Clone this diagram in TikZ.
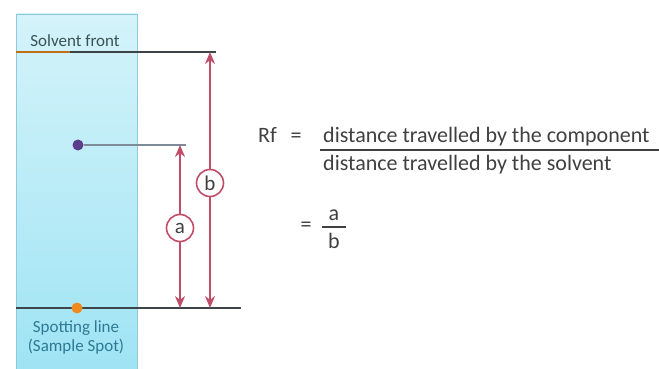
\documentclass[tikz,border=0pt]{standalone}
\usepackage{fontspec}
\setmainfont{Carlito}
\usetikzlibrary{arrows.meta}
\definecolor{plateTop}{HTML}{D4F3FA}
\definecolor{plateBot}{HTML}{9FE4F4}
\definecolor{plateEdge}{HTML}{8FC9DA}
\definecolor{arrowred}{HTML}{C04D68}
\definecolor{txtgray}{HTML}{404040}
\definecolor{spottxt}{HTML}{2E7A96}
\definecolor{orangedot}{HTML}{F08A1E}
\definecolor{purpledot}{HTML}{5A3E8C}
\definecolor{linegray}{HTML}{3C4448}
\definecolor{connblue}{HTML}{7D8C98}
\tikzset{
  dim/.style={draw=arrowred, line width=2.2pt, {Stealth[length=12pt,width=10pt]}-{Stealth[length=12pt,width=10pt]}},
  lab/.style={circle, draw=arrowred, line width=1.6pt, fill=white, minimum size=27pt, inner sep=0pt, font=\fontsize{21}{21}\selectfont, text=txtgray},
  ftxt/.style={font=\fontsize{22}{26}\selectfont, text=txtgray, inner sep=0pt},
  ptxt/.style={font=\fontsize{17}{19}\selectfont, inner sep=0pt, align=center}
}
\begin{document}
\begin{tikzpicture}[x=1pt,y=-1pt]
\useasboundingbox (0,0) rectangle (659,369);
% plate
\shade[top color=plateTop, bottom color=plateBot, draw=plateEdge, line width=0.8pt] (16,14) rectangle (137,369);
% solvent front
\coordinate (sfL) at (16,52);
\coordinate (sfM) at (70,52);
\coordinate (sfR) at (216,52);
\draw[orangedot!80!black, line width=1.8pt] (sfL) -- (sfM);
\draw[linegray, line width=1.4pt] (sfM) -- (sfR);
\node[ptxt, text=txtgray!90!cyan] (sft) at (75,41) {Solvent front};
% spotting line
\coordinate (slL) at (16,308);
\coordinate (slR) at (241,308);
\draw[linegray, line width=1.4pt] (slL) -- (slR);
\node[circle, fill=orangedot, minimum size=11pt, inner sep=0pt] (spot) at (77,308) {};
\node[ptxt, text=spottxt] (slt) at (76,337) {Spotting line\\(Sample Spot)};
% component spot
\node[circle, fill=purpledot, minimum size=11pt, inner sep=0pt] (comp) at (78,145) {};
\coordinate (cE) at (186,145);
\draw[connblue, line width=1.3pt] (comp) -- (cE);
% arrows
\coordinate (aT) at (180,145);
\coordinate (aB) at (180,308);
\coordinate (bT) at (210,52);
\coordinate (bB) at (210,308);
\draw[dim] (aB) -- (aT);
\draw[dim] (bB) -- (bT);
\node[lab] (la) at (180,228) {a};
\node[lab] (lb) at (210,183) {b};
% formula
\node[ftxt, anchor=base west] (rf) at (258,142) {Rf};
\node[ftxt, anchor=base] (eq1) at (296,142) {=};
\node[ftxt, anchor=base west] (num) at (323,142) {distance travelled by the component};
\node[ftxt, anchor=base west] (den) at (323,170) {distance travelled by the solvent};
\coordinate (fl1) at (320,150);
\coordinate (fl2) at (659,150);
\draw[txtgray, line width=1.4pt] (fl1) -- (fl2);
\node[ftxt, anchor=base] (eq2) at (306,231) {=};
\node[ftxt, anchor=base] (na) at (334,220) {a};
\node[ftxt, anchor=base] (nb) at (334,248) {b};
\coordinate (gl1) at (322,227);
\coordinate (gl2) at (346,227);
\draw[txtgray, line width=1.4pt] (gl1) -- (gl2);
\end{tikzpicture}
\end{document}
